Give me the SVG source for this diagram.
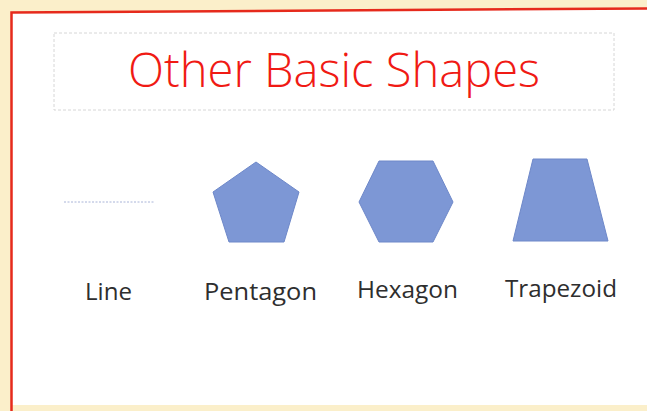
<svg xmlns="http://www.w3.org/2000/svg" width="647" height="411" viewBox="0 0 647 411">
  <style>
    .shape { fill: #7D97D5; stroke: #6E88C9; stroke-width: 1; }
    .label { font-family: "Open Sans", "Liberation Sans", Arial, sans-serif; font-size: 23px; fill: #2E2E2E; }
    .title { font-family: "Open Sans", "Liberation Sans", Arial, sans-serif; font-weight: 300; font-size: 47px; fill: #F01A14; }
  </style>
  <rect x="0" y="0" width="647" height="411" fill="#FBEFCA"/>
  <polygon points="11,12.5 647,8.5 647,405 11,405" fill="#FFFFFF"/>
  <path d="M11.5,411 L11.5,12.5 L647,8.5" fill="none" stroke="#E62A1C" stroke-width="2.5"/>
  <g id="title">
    <rect x="54" y="33" width="560" height="77" fill="none" stroke="#D6D6D6" stroke-width="1" stroke-dasharray="3 2"/>
    <text class="title" x="128" y="87" textLength="412" lengthAdjust="spacingAndGlyphs">Other Basic Shapes</text>
  </g>
  <g id="connectors"></g>
  <g id="line">
    <line x1="64" y1="202" x2="155" y2="202" stroke="#A9B4D8" stroke-width="1" stroke-dasharray="2 1.5"/>
    <text class="label" x="85" y="300" textLength="47" lengthAdjust="spacingAndGlyphs">Line</text>
  </g>
  <g id="pentagon">
    <polygon class="shape" points="256,162 299,192 284,242 229,242 213,192"/>
    <text class="label" x="204" y="300" textLength="113" lengthAdjust="spacingAndGlyphs">Pentagon</text>
  </g>
  <g id="hexagon">
    <polygon class="shape" points="379,161 433,161 453,202 433,242 379,242 359,202"/>
    <text class="label" x="357" y="298" textLength="101" lengthAdjust="spacingAndGlyphs">Hexagon</text>
  </g>
  <g id="trapezoid">
    <polygon class="shape" points="533,159 587,159 608,241 513,241"/>
    <text class="label" x="505" y="297" textLength="112" lengthAdjust="spacingAndGlyphs">Trapezoid</text>
  </g>
</svg>
